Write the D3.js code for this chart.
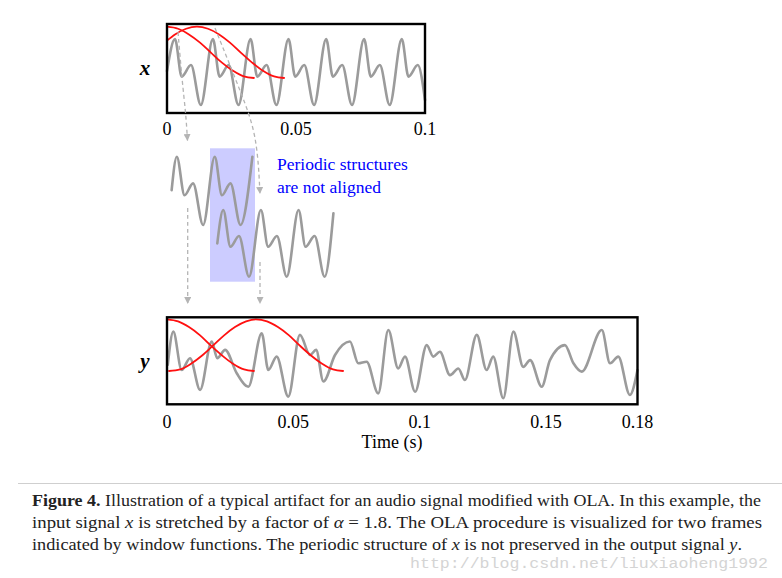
<!DOCTYPE html>
<html><head><meta charset="utf-8">
<script src="https://cdn.jsdelivr.net/npm/d3@7"></script>
<style>html,body{margin:0;padding:0;background:#fff}svg{display:block}</style>
</head><body>
<svg id="c" width="782" height="578"></svg>
<script>
// ---------- data ----------
// input signal x : [time (s), amplitude]
const signalX = [
 [0,0.03],[0.0031,1],[0.0057,-0.14],[0.0093,0.21],[0.0131,-1],
 [0.0178,1],[0.0204,-0.14],[0.0239,0.21],[0.0277,-1],
 [0.0324,1],[0.0350,-0.14],[0.0386,0.21],[0.0424,-1],
 [0.0471,1],[0.0497,-0.14],[0.0532,0.21],[0.0570,-1],
 [0.0617,1],[0.0643,-0.14],[0.0679,0.21],[0.0717,-1],
 [0.0764,1],[0.0790,-0.14],[0.0825,0.21],[0.0863,-1],
 [0.0910,1],[0.0936,-0.14],[0.0972,0.21],[0.1,-0.85]
];
// analysis windows on x : [time, weight]
const windowX1 = [[0,1],[0.0043,0.96],[0.0085,0.85],[0.0128,0.69],[0.0171,0.49],[0.0213,0.30],[0.0256,0.14],[0.0298,0.03],[0.0337,0]];
const windowX2 = [[0,0.73],[0.0031,0.85],[0.0074,0.96],[0.0116,1],[0.0159,0.96],[0.0202,0.85],[0.0244,0.69],[0.0287,0.49],[0.0330,0.30],[0.0372,0.14],[0.0415,0.03],[0.0454,0]];
// frames taken from x (middle sketch)
const frame1 = [[0.0018,0.02],[0.0038,1],[0.0068,-0.13],[0.0101,0.22],[0.0140,-1],[0.0185,1],[0.0213,-0.13],[0.0246,0.22],[0.0285,-1],[0.0331,1]];
const frame2 = [[0.0195,0],[0.0218,1],[0.0246,-0.1],[0.0279,0.22],[0.0318,-1],[0.0364,1],[0.0392,-0.1],[0.0426,0.22],[0.0464,-1],[0.0510,1],[0.0537,-0.1],[0.0572,0.22],[0.0611,-1],[0.0645,0.9]];
// output signal y
const signalY = [
 [0.0003,-0.06],[0.0025,0.98],[0.0058,-0.22],[0.0091,0.15],[0.0131,-0.84],
 [0.0177,0.67],[0.0199,0.15],[0.0230,0.41],[0.0276,-0.32],[0.0322,-0.74],
 [0.0375,0.93],[0.0401,-0.22],[0.0434,0.20],[0.0480,-1.05],
 [0.0526,0.88],[0.0566,0.25],[0.0590,0.41],[0.0619,-0.58],[0.0665,0.25],
 [0.0724,0.67],[0.0757,-0.01],[0.0790,0.04],[0.0836,-0.95],
 [0.0876,1.03],[0.0915,-0.17],[0.0942,0.20],[0.0982,-0.90],
 [0.1028,0.56],[0.1054,0.20],[0.1080,0.35],[0.1120,-0.38],[0.1153,-0.17],[0.1179,-0.53],
 [0.1226,0.88],[0.1265,-0.22],[0.1291,0.20],[0.1331,-1.10],
 [0.1371,0.98],[0.1410,-0.12],[0.1437,0.09],[0.1483,-0.74],
 [0.1513,0.09],[0.1562,0.56],[0.1590,-0.01],[0.1617,-0.27],
 [0.1683,1.03],[0.1710,-0.01],[0.1737,0.20],[0.1775,-1.0],[0.1800,-0.22]
];
// synthesis windows on y
const windowY1 = [[0,1],[0.0044,0.96],[0.0087,0.85],[0.0131,0.69],[0.0174,0.49],[0.0218,0.30],[0.0261,0.14],[0.0305,0.03],[0.0344,0]];
const windowY2 = [[0.0008,0],[0.0052,0.03],[0.0095,0.14],[0.0139,0.30],[0.0182,0.49],[0.0226,0.69],[0.0269,0.85],[0.0313,0.96],[0.0352,1],[0.0396,0.96],[0.0439,0.85],[0.0483,0.69],[0.0526,0.49],[0.0570,0.30],[0.0614,0.14],[0.0657,0.03],[0.0697,0]];
const ticksTop = [0, 0.05, 0.1];
const tickLabelsTop = ["0", "0.05", "0.1"];
const ticksBot = [0, 0.05, 0.1, 0.15, 0.18];
const tickLabelsBot = ["0", "0.05", "0.1", "0.15", "0.18"];
const annotation = ["Periodic structures", "are not aligned"];
const caption = [
 ["Figure 4.", " Illustration of a typical artifact for an audio signal modified with OLA. In this example, the"],
 ["", "input signal x is stretched by a factor of α = 1.8.  The OLA procedure is visualized for two frames"],
 ["", "indicated by window functions. The periodic structure of x is not preserved in the output signal y."]
];

// ---------- drawing ----------
const svg = d3.select("#c");
const SERIF = "'Liberation Serif','Times New Roman',serif";
const GRAY = "#9b9b9b", RED = "#ff1010", ARROW = "#b4b4b4";

const xTop = d3.scaleLinear().domain([0, 0.1]).range([167, 425]);
const xBot = d3.scaleLinear().domain([0, 0.15, 0.18]).range([167, 546, 637.5]);
const aTop = d3.scaleLinear().domain([-1, 1]).range([105, 39]);
const wTop = d3.scaleLinear().domain([0, 1]).range([78, 26.7]);
const aF1 = d3.scaleLinear().domain([-1, 1]).range([225, 156.7]);
const aF2 = d3.scaleLinear().domain([-1, 1]).range([276.7, 210]);
const aBot = d3.scaleLinear().domain([-1, 1]).range([395, 331]);
const wBot = d3.scaleLinear().domain([0, 1]).range([371, 319.3]);

function line(xs, ys) {
  return d3.line().x(d => xs(d[0])).y(d => ys(d[1])).curve(d3.curveMonotoneX);
}
function path(g, data, xs, ys, color, w) {
  g.append("path").attr("d", line(xs, ys)(data)).attr("fill", "none")
   .attr("stroke", color).attr("stroke-width", w).attr("stroke-linejoin", "round").attr("stroke-linecap", "round");
}

// arrow marker
svg.append("defs").append("marker").attr("id", "ah").attr("viewBox", "0 0 10 10")
  .attr("refX", 10).attr("refY", 5).attr("markerWidth", 7).attr("markerHeight", 7)
  .attr("markerUnits", "userSpaceOnUse").attr("orient", "auto")
  .append("path").attr("d", "M0,0 L10,5 L0,10 z").attr("fill", ARROW);

function dashed(pts, marker) {
  const p = svg.append("path").attr("d", d3.line().curve(d3.curveBasis)(pts))
    .attr("fill", "none").attr("stroke", ARROW).attr("stroke-width", 1.3).attr("stroke-dasharray", "4,3");
  if (marker) p.attr("marker-end", "url(#ah)");
}

// ---- top panel ----
const gTop = svg.append("g");
path(gTop, signalX, xTop, aTop, GRAY, 2.6);
path(gTop, windowX1, xTop, wTop, RED, 1.8);
path(gTop, windowX2, xTop, wTop, RED, 1.8);
gTop.append("rect").attr("x", 167).attr("y", 24).attr("width", 258).attr("height", 89)
  .attr("fill", "none").attr("stroke", "#000").attr("stroke-width", 2.4);
gTop.selectAll("text.t").data(ticksTop).enter().append("text")
  .attr("x", d => xTop(d)).attr("y", 135).attr("text-anchor", "middle")
  .attr("font-family", SERIF).attr("font-size", 18).text((d, i) => tickLabelsTop[i]);
svg.append("text").attr("x", 145).attr("y", 75).attr("text-anchor", "middle")
  .attr("font-family", SERIF).attr("font-style", "italic").attr("font-weight", "bold").attr("font-size", 21).text("x");

// dashed arrows from top
dashed([[178, 32], [182, 80], [186, 115], [187.5, 141]], true);
dashed([[215, 28], [242, 95], [257, 135], [260, 194]], true);

// ---- middle sketch ----
svg.append("rect").attr("x", 210).attr("y", 148.3).attr("width", 45).attr("height", 133.4).attr("fill", "#ccccff");
dashed([[187.7, 208], [187.7, 250], [187.7, 304]], true);
dashed([[260, 262], [260, 280], [260, 304]], true);
path(svg, frame1, xTop, aF1, GRAY, 2.6);
path(svg, frame2, xTop, aF2, GRAY, 2.6);
svg.selectAll("text.ann").data(annotation).enter().append("text")
  .attr("x", 277).attr("y", (d, i) => 170 + i * 23.3)
  .attr("font-family", SERIF).attr("font-size", 17.5).attr("fill", "#0000ff").text(d => d);

// ---- bottom panel ----
const gBot = svg.append("g");
path(gBot, signalY, xBot, aBot, GRAY, 2.6);
path(gBot, windowY1, xBot, wBot, RED, 1.8);
path(gBot, windowY2, xBot, wBot, RED, 1.8);
gBot.append("rect").attr("x", 167).attr("y", 317.3).attr("width", 470.5).attr("height", 87)
  .attr("fill", "none").attr("stroke", "#000").attr("stroke-width", 2.4);
gBot.selectAll("text.t").data(ticksBot).enter().append("text")
  .attr("x", d => xBot(d)).attr("y", 428).attr("text-anchor", "middle")
  .attr("font-family", SERIF).attr("font-size", 18).text((d, i) => tickLabelsBot[i]);
svg.append("text").attr("x", 145).attr("y", 368).attr("text-anchor", "middle")
  .attr("font-family", SERIF).attr("font-style", "italic").attr("font-weight", "bold").attr("font-size", 21).text("y");
svg.append("text").attr("x", 392).attr("y", 448).attr("text-anchor", "middle")
  .attr("font-family", SERIF).attr("font-size", 18).text("Time (s)");

// ---- caption ----
svg.append("line").attr("x1", 18).attr("x2", 782).attr("y1", 483.5).attr("y2", 483.5).attr("stroke", "#cfcfcf").attr("stroke-width", 1);
svg.append("text").attr("x", 410).attr("y", 568).attr("font-family", "'Liberation Mono','DejaVu Sans Mono',monospace")
  .attr("font-size", 14).attr("fill", "#d4d4d4").attr("textLength", 358).attr("lengthAdjust", "spacingAndGlyphs")
  .text("http://blog.csdn.net/liuxiaoheng1992");
const capEnds = [761, 762, 742];
caption.forEach((c, i) => {
  const t = svg.append("text").attr("x", 32).attr("y", 506 + i * 22)
    .attr("font-family", SERIF).attr("font-size", 16.5).attr("fill", "#222")
    .attr("textLength", capEnds[i] - 32).attr("lengthAdjust", "spacingAndGlyphs");
  if (c[0]) t.append("tspan").attr("font-weight", "bold").text(c[0]);
  const parts = c[1].split(/( x | y\.| α )/);
  parts.forEach(p => {
    if (p === " x ") { t.append("tspan").text(" "); t.append("tspan").attr("font-style", "italic").text("x"); t.append("tspan").text(" "); }
    else if (p === " y.") { t.append("tspan").text(" "); t.append("tspan").attr("font-style", "italic").text("y"); t.append("tspan").text("."); }
    else if (p === " α ") { t.append("tspan").text(" "); t.append("tspan").attr("font-style", "italic").text("α"); t.append("tspan").text(" "); }
    else t.append("tspan").text(p);
  });
});
</script>
</body></html>
